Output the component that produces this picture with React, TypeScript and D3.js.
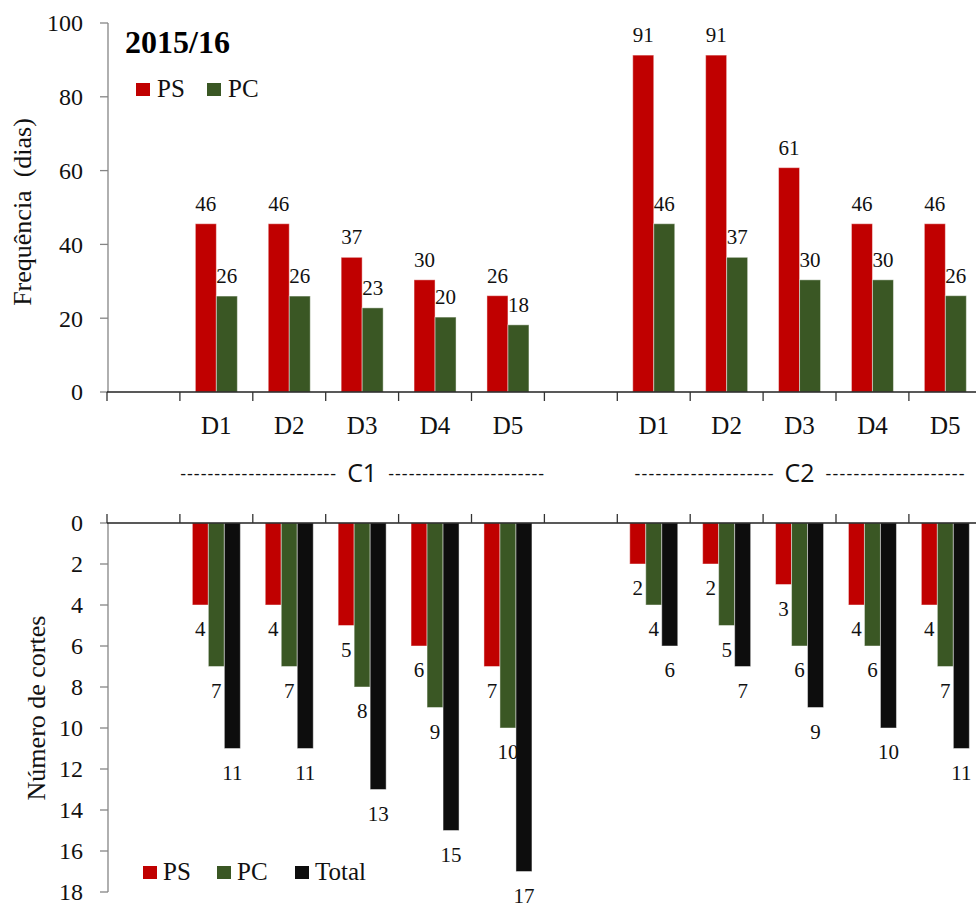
import React from "react";
import { scaleBand, scaleLinear } from "d3";

// categories
const doses = ["D1", "D2", "D3", "D4", "D5"];
const cycles = ["C1", "C2"];
const seasonTitle = "2015/16";

// frequency in days (bar heights) and the printed labels
const psDays = [45.6, 45.6, 36.5, 30.4, 26.1, 91.3, 91.3, 60.8, 45.6, 45.6];
const pcDays = [26, 26, 22.8, 20.3, 18.2, 45.6, 36.5, 30.4, 30.4, 26.1];
const psDaysLabel = [46, 46, 37, 30, 26, 91, 91, 61, 46, 46];
const pcDaysLabel = [26, 26, 23, 20, 18, 46, 37, 30, 30, 26];

// number of cuts
const psCuts = [4, 4, 5, 6, 7, 2, 2, 3, 4, 4];
const pcCuts = [7, 7, 8, 9, 10, 4, 5, 6, 6, 7];
const totalCuts = [11, 11, 13, 15, 17, 6, 7, 9, 10, 11];

const topTicks = [0, 20, 40, 60, 80, 100];
const bottomTicks = [0, 2, 4, 6, 8, 10, 12, 14, 16, 18];

const RED = "#c00000";
const GREEN = "#3a5724";
const BLACK = "#0d0d0d";
const SERIF = "Liberation Serif";
const SANS = "Open Sans";

// one empty slot before each cycle, then its five doses
const slots: string[] = [];
cycles.forEach((c) => {
  slots.push(c + "-gap");
  doses.forEach((d) => slots.push(c + "-" + d));
});
const barSlots = slots.filter((s) => !s.endsWith("gap"));

export default function App() {
  const x0 = 107;
  const slotW = 72.9;
  const x = scaleBand<string>().domain(slots).range([x0, x0 + slotW * slots.length]);
  const xTop = scaleBand<string>().domain(["PS", "PC"]).range([-21, 21]);
  const xBot = scaleBand<string>().domain(["PS", "PC", "Total"]).range([-24, 24]);

  const yTop = scaleLinear().domain([0, 100]).range([392, 23]);
  const yBot = scaleLinear().domain([0, 18]).range([523, 892]);

  const center = (s: string) => (x(s) as number) + x.bandwidth() / 2;
  const boundaries = slots.map((s) => x(s) as number);
  const W = 976;

  const topSeries = [
    { key: "PS", values: psDays, labels: psDaysLabel, color: RED },
    { key: "PC", values: pcDays, labels: pcDaysLabel, color: GREEN },
  ];
  const botSeries = [
    { key: "PS", values: psCuts, color: RED },
    { key: "PC", values: pcCuts, color: GREEN },
    { key: "Total", values: totalCuts, color: BLACK },
  ];

  const cycleCenters = cycles.map((c) => (center(c + "-D1") + center(c + "-D5")) / 2);

  return (
    <svg
      width={W}
      height={903}
      style={{ position: "absolute", left: 0, top: 0, background: "#fff" }}
      fontFamily={SERIF}
    >
      {/* ---------- top panel ---------- */}
      {topSeries.map((s) =>
        barSlots.map((slot, i) => {
          const bx = center(slot) + (xTop(s.key) as number);
          const by = yTop(s.values[i]);
          return (
            <g key={s.key + slot}>
              <rect
                x={bx}
                y={by}
                width={xTop.bandwidth()}
                height={yTop(0) - by}
                fill={s.color}
                stroke="rgba(255,255,255,0.45)"
                strokeWidth={1}
              />
              <text
                x={bx + xTop.bandwidth() / 2}
                y={by - 13}
                textAnchor="middle"
                fontFamily={SERIF}
                fontSize={21}
                fill="#111"
              >
                {s.labels[i]}
              </text>
            </g>
          );
        })
      )}

      {/* y axis top */}
      <line x1={108} x2={108} y1={yTop(100)} y2={yTop(0)} stroke="#858585" strokeWidth={1.3} />
      {topTicks.map((t) => (
        <g key={"yt" + t}>
          <line x1={100} x2={108} y1={yTop(t)} y2={yTop(t)} stroke="#858585" strokeWidth={1.3} />
          <text x={83} y={yTop(t)} dy="0.35em" textAnchor="end" fontFamily={SERIF} fontSize={24} fill="#111">
            {t}
          </text>
        </g>
      ))}
      <text
        transform={`translate(31,${212}) rotate(-90)`}
        textAnchor="middle"
        fontFamily={SERIF}
        fontSize={26}
        fill="#111"
        style={{ whiteSpace: "pre" }}
      >
        {"Frequência  (dias)"}
      </text>

      {/* x axis top */}
      <line x1={107} x2={W} y1={yTop(0)} y2={yTop(0)} stroke="#222" strokeWidth={1.3} />
      {boundaries.map((b, i) => (
        <line key={"xt" + i} x1={b} x2={b} y1={yTop(0)} y2={yTop(0) + 9} stroke="#333" strokeWidth={1.3} />
      ))}
      {barSlots.map((slot) => (
        <text key={"dl" + slot} x={center(slot)} y={434} textAnchor="middle" fontFamily={SERIF} fontSize={25} fill="#111">
          {slot.split("-")[1]}
        </text>
      ))}

      {/* title and top legend */}
      <text x={125} y={53} fontFamily={SERIF} fontSize={32} fontWeight="bold" fill="#000">
        {seasonTitle}
      </text>
      <rect x={136} y={83} width={14} height={13} fill={RED} />
      <text x={157} y={97} fontFamily={SERIF} fontSize={25} fill="#111">PS</text>
      <rect x={207} y={83} width={14} height={13} fill={GREEN} />
      <text x={228} y={97} fontFamily={SERIF} fontSize={25} fill="#111">PC</text>

      {/* cycle labels */}
      {cycles.map((c, i) => {
        const cx = cycleCenters[i];
        const half = i === 0 ? 182 : 165;
        const gap = 26;
        const dashLen = half - gap;
        const dashes = "-".repeat(i === 0 ? 23 : 20);
        return (
          <g key={"cy" + c} fill="#111">
            <text x={cx - half} y={480} fontFamily={SANS} fontSize={18} textLength={dashLen} lengthAdjust="spacing">
              {dashes}
            </text>
            <text x={cx} y={482} textAnchor="middle" fontFamily={SANS} fontSize={25}>
              {c}
            </text>
            <text x={cx + gap} y={480} fontFamily={SANS} fontSize={18} textLength={dashLen} lengthAdjust="spacing">
              {dashes}
            </text>
          </g>
        );
      })}

      {/* ---------- bottom panel ---------- */}
      {botSeries.map((s) =>
        barSlots.map((slot, i) => {
          const bx = center(slot) + (xBot(s.key) as number);
          const end = yBot(s.values[i]);
          return (
            <rect
              key={"b" + s.key + slot}
              x={bx}
              y={yBot(0)}
              width={xBot.bandwidth()}
              height={end - yBot(0)}
              fill={s.color}
              stroke="rgba(255,255,255,0.45)"
              strokeWidth={1}
            />
          );
        })
      )}
      {botSeries.map((s) =>
        barSlots.map((slot, i) => {
          const bx = center(slot) + (xBot(s.key) as number) + xBot.bandwidth() / 2;
          return (
            <text
              key={"bl" + s.key + slot}
              x={bx}
              y={yBot(s.values[i]) + 31}
              textAnchor="middle"
              fontFamily={SERIF}
              fontSize={21}
              fill="#111"
            >
              {s.values[i]}
            </text>
          );
        })
      )}

      {/* y axis bottom */}
      <line x1={108} x2={108} y1={yBot(0)} y2={yBot(18)} stroke="#858585" strokeWidth={1.3} />
      {bottomTicks.map((t) => (
        <g key={"yb" + t}>
          <line x1={100} x2={108} y1={yBot(t)} y2={yBot(t)} stroke="#858585" strokeWidth={1.3} />
          <text x={83} y={yBot(t)} dy="0.35em" textAnchor="end" fontFamily={SERIF} fontSize={24} fill="#111">
            {t}
          </text>
        </g>
      ))}
      <text transform={`translate(45,${708}) rotate(-90)`} textAnchor="middle" fontFamily={SERIF} fontSize={26} fill="#111">
        Número de cortes
      </text>

      {/* x axis bottom */}
      <line x1={107} x2={W} y1={yBot(0)} y2={yBot(0)} stroke="#222" strokeWidth={1.3} />
      {boundaries.map((b, i) => (
        <line key={"xb" + i} x1={b} x2={b} y1={yBot(0) - 9} y2={yBot(0)} stroke="#333" strokeWidth={1.3} />
      ))}

      {/* bottom legend */}
      <rect x={143} y={866} width={14} height={13} fill={RED} />
      <text x={163} y={880} fontFamily={SERIF} fontSize={25} fill="#111">PS</text>
      <rect x={217} y={866} width={14} height={13} fill={GREEN} />
      <text x={237} y={880} fontFamily={SERIF} fontSize={25} fill="#111">PC</text>
      <rect x={295} y={866} width={14} height={13} fill={BLACK} />
      <text x={315} y={880} fontFamily={SERIF} fontSize={25} fill="#111">Total</text>
    </svg>
  );
}
